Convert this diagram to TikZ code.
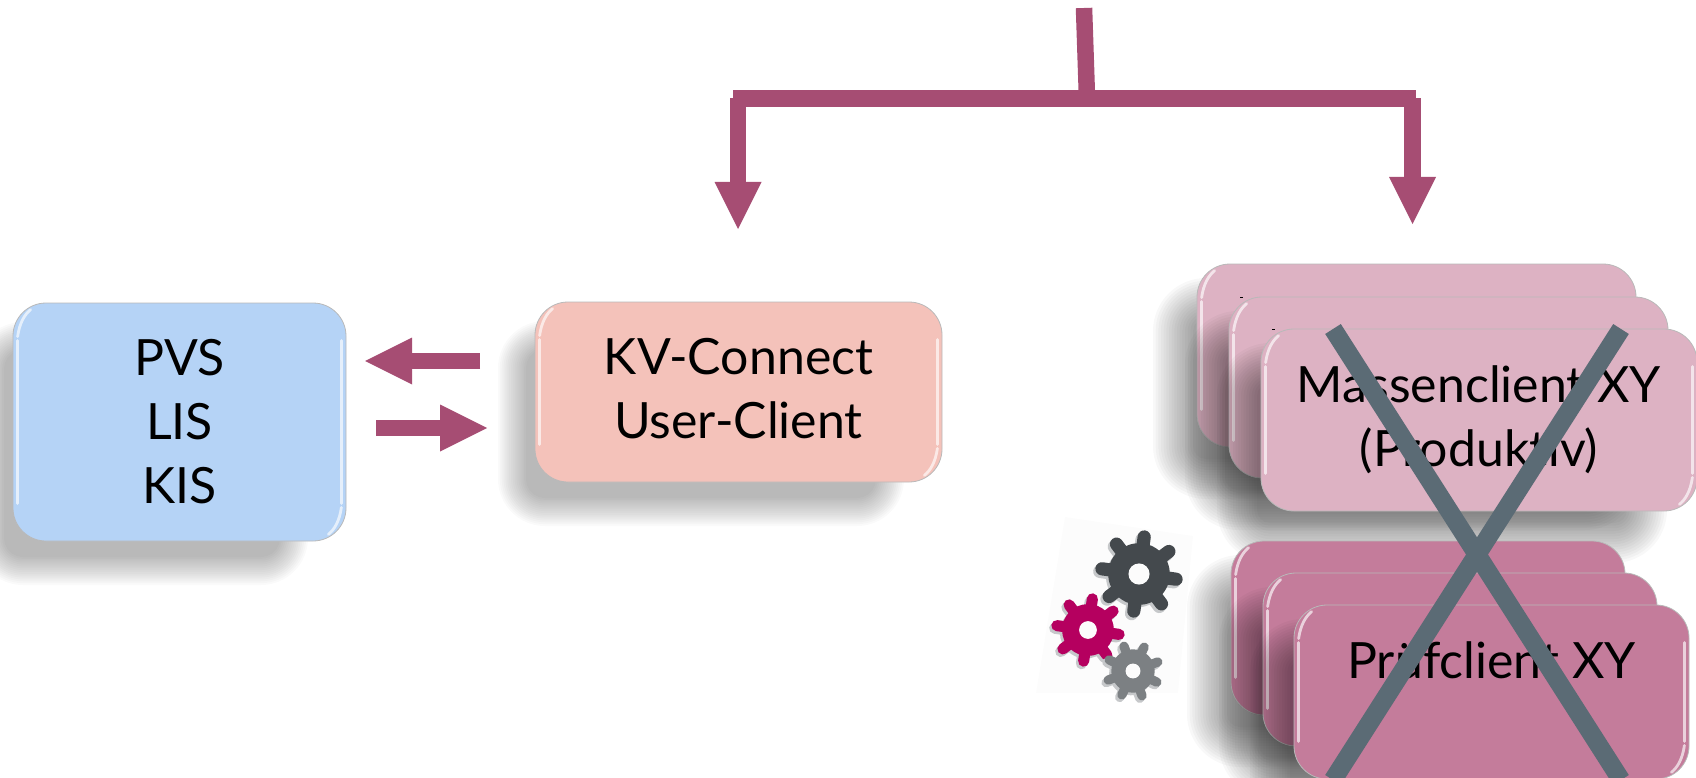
\documentclass[tikz,border=0pt]{standalone}
\usepackage{fontspec}
\setmainfont{Lato}
\usetikzlibrary{arrows.meta}
\definecolor{arrowc}{HTML}{A64D73}
\definecolor{bluec}{HTML}{B5D3F6}
\definecolor{kvc}{HTML}{F4C2BA}
\definecolor{massc}{HTML}{DDB2C3}
\definecolor{pruefc}{HTML}{C47C9B}
\definecolor{crossc}{HTML}{5B6B75}
\definecolor{patchc}{HTML}{FCFCFC}
\definecolor{gearshadow}{HTML}{C6C8CA}
\definecolor{geardark}{HTML}{44494D}
\definecolor{gearmag}{HTML}{B5005F}
\definecolor{geargray}{HTML}{7C8083}
\tikzset{
  x=1pt,y=-1pt,
  cardbox/.style={draw=gray!55,line width=.8pt,rounded corners=33pt,inner sep=0pt,align=center,
    font=\fontsize{50}{64}\selectfont,text=black},
  bluecard/.style={cardbox,fill=bluec},
  kvcard/.style={cardbox,fill=kvc},
  masscard/.style={cardbox,fill=massc},
  pruefcard/.style={cardbox,fill=pruefc},
  bararrow/.style={draw=arrowc,line width=16.5pt},
  bigtip/.style={-{Triangle[length=47pt,width=47pt,line width=0pt,fill=arrowc]}},
  crossline/.style={draw=crossc,line width=18.5pt},
  glossline/.style={draw=white,line width=2.8pt,line cap=round,opacity=.65},
}
% x1,y1,x2,y2,blur,layer opacity
\newcommand{\softshade}[6]{%
  \foreach \i in {0,...,15}{%
    \pgfmathsetmacro{\dd}{#5-2*#5*\i/15}%
    \pgfmathsetmacro{\rr}{max(33+\dd,6)}%
    \fill[black,fill opacity=#6,rounded corners=\rr pt]
      ({#1-\dd},{#2-\dd}) rectangle ({#3+\dd},{#4+\dd});
  }}
\newcommand{\glosscard}[1]{%
  \draw[glossline] ([shift={(5,38)}]#1.north west) -- ([shift={(5,-38)}]#1.south west);
  \draw[glossline] ([shift={(5,34)}]#1.north west) .. controls ([shift={(7,20)}]#1.north west) and ([shift={(12,12)}]#1.north west) .. ([shift={(18,7)}]#1.north west);
  \draw[glossline] ([shift={(-5,38)}]#1.north east) -- ([shift={(-5,-38)}]#1.south east);
  \draw[glossline] ([shift={(-5,-34)}]#1.south east) .. controls ([shift={(-7,-20)}]#1.south east) and ([shift={(-12,-12)}]#1.south east) .. ([shift={(-18,-7)}]#1.south east);
}
% name, x1,y1,x2,y2, style, text  (flat card with a narrow shadow)
\newcommand{\clientcard}[7]{%
  \pgfmathsetmacro{\sa}{#2-23}\pgfmathsetmacro{\sb}{#3+33}%
  \pgfmathsetmacro{\sc}{#4-52}\pgfmathsetmacro{\sd}{#5+30}%
  \softshade{\sa}{\sb}{\sc}{\sd}{14}{.0205}%
  \placecard{#1}{#2}{#3}{#4}{#5}{#6}{#7}%
}
% same, with the wider and darker shadow of the stacked cards
\newcommand{\stackcard}[7]{%
  \pgfmathsetmacro{\sa}{#2-24}\pgfmathsetmacro{\sb}{#3+34}%
  \pgfmathsetmacro{\sc}{#4-50}\pgfmathsetmacro{\sd}{#5+32}%
  \softshade{\sa}{\sb}{\sc}{\sd}{20}{.0255}%
  \placecard{#1}{#2}{#3}{#4}{#5}{#6}{#7}%
}
\newcommand{\placecard}[7]{%
  \pgfmathsetmacro{\cx}{(#2+#4)/2}\pgfmathsetmacro{\cy}{(#3+#5)/2}%
  \pgfmathsetmacro{\ww}{#4-#2}\pgfmathsetmacro{\hh}{#5-#3}%
  \node[#6,minimum width=\ww pt,minimum height=\hh pt] (#1) at (\cx,\cy) {#7};
  \glosscard{#1}%
}
% x,y,R,colour,rotation
\newcommand{\gearwheel}[5]{%
  \begin{scope}[shift={(#1,#2)}]
    \fill[#4] (0,0) circle[radius={.70*#3}];
    \foreach \a in {0,45,...,315}{%
      \draw[#4,line width={.30*#3},line cap=round] (0,0) -- ({.85*#3*cos(\a+#5)},{.85*#3*sin(\a+#5)});
    }
  \end{scope}}
\newcommand{\gearfull}[6]{%
  \gearwheel{#1-2.2}{#2+2.6}{#3}{gearshadow}{#5}%
  \gearwheel{#1}{#2}{#3}{#4}{#5}%
  \fill[#6] (#1,#2) circle[radius={.24*#3}];
}
\begin{document}
\begin{tikzpicture}
\useasboundingbox (0,0) rectangle (1696,778);
\clip (0,0) rectangle (1696,778);

% client cards
\clientcard{pvs}{13}{303}{346}{541}{bluecard}{PVS\\LIS\\KIS}
\clientcard{kv}{535}{302}{942}{482}{kvcard}{KV-Connect\\User-Client\rule[-8pt]{0pt}{8pt}}

\stackcard{massA}{1197}{264}{1636}{447}{masscard}{}
\fill[black] (1239.5,296.6) rectangle (1243,298.2);
\stackcard{massB}{1229}{297}{1668}{478}{masscard}{}
\fill[black] (1271.5,328.6) rectangle (1275,330.2);
\stackcard{massC}{1261}{329}{1697}{511}{masscard}{Massenclient XY\\(Produktiv)}
\stackcard{pruefA}{1231}{541}{1625}{715}{pruefcard}{}
\stackcard{pruefB}{1263}{573}{1657}{746}{pruefcard}{}
\stackcard{pruefC}{1294}{605}{1689}{779}{pruefcard}{Prüfclient XY\\\mbox{}}

% gears on their faint patch
\fill[patchc] (1065,517) -- (1193,536) -- (1178,693) -- (1036,693) -- cycle;
\gearfull{1139}{574}{44}{geardark}{-37}{patchc}
\gearfull{1088}{630}{37}{gearmag}{-37}{patchc}
\gearfull{1133}{671}{31}{geargray}{-20}{patchc}

% connectors
\coordinate (feed) at (1084,8);
\coordinate (feedEnd) at (1087,98);
\coordinate (busL) at (733,98.5);
\coordinate (busR) at (1416,98.5);
\coordinate (dropL) at (738,98.5);
\coordinate (dropR) at (1412.5,98.5);
\coordinate (tipL) at (738,229);
\coordinate (tipR) at (1412.5,224);
\draw[bararrow] (feed) -- (feedEnd);
\draw[bararrow] (busL) -- (busR);
\draw[bararrow,bigtip] (dropL) -- (tipL);
\draw[bararrow,bigtip] (dropR) -- (tipR);

\coordinate (toPvsS) at (480,361);
\coordinate (toPvsE) at (365,361);
\coordinate (toKvS) at (376,428);
\coordinate (toKvE) at (487,428);
\draw[bararrow,bigtip] (toPvsS) -- (toPvsE);
\draw[bararrow,bigtip] (toKvS) -- (toKvE);

% cross-out
\coordinate (xa) at (1333,329);
\coordinate (xb) at (1621,780);
\coordinate (xc) at (1621,329);
\coordinate (xd) at (1333,780);
\draw[crossline] (xa) -- (xb);
\draw[crossline] (xc) -- (xd);
\end{tikzpicture}
\end{document}
